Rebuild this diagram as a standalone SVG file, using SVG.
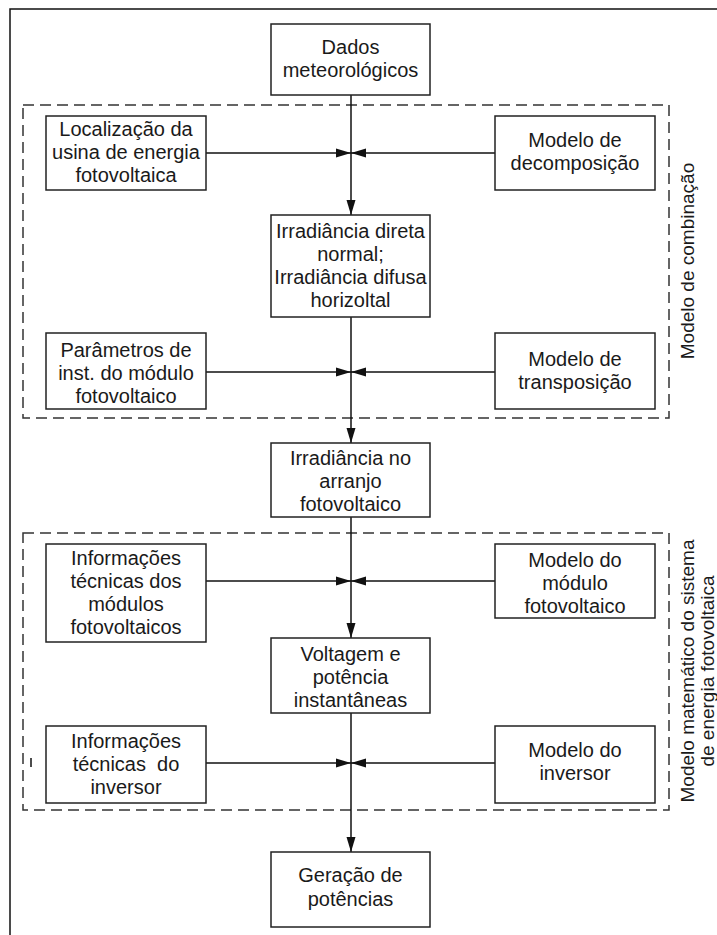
<svg xmlns="http://www.w3.org/2000/svg" width="717" height="935" viewBox="0 0 717 935">
<style>
.box{fill:#fff;stroke:#222;stroke-width:1.5}
.dash{fill:none;stroke:#333;stroke-width:1.5;stroke-dasharray:11 6}
.ln{fill:none;stroke:#111;stroke-width:1.5}
text{font-family:"Liberation Sans",Arial,sans-serif;font-size:20px;fill:#1a1a1a;text-anchor:middle}
.side{font-size:19px}
</style>
<defs>
<marker id="ah" viewBox="0 0 15 10" refX="15" refY="5" markerWidth="15" markerHeight="10" markerUnits="userSpaceOnUse" orient="auto">
<path d="M0,0.5 L15,5 L0,9.5 Z" fill="#111"/>
</marker>
</defs>
<rect width="717" height="935" fill="#fff"/>
<path d="M10,935 V9 H717" class="ln" stroke="#333"/>
<g id="groups">
<rect x="23" y="105" width="646" height="313" class="dash"/>
<rect x="23" y="533" width="646" height="277" class="dash"/>
<text class="side" transform="translate(694,261) rotate(-90)">Modelo de combinação</text>
<text class="side" transform="translate(694,671) rotate(-90)">Modelo matemático do sistema</text>
<text class="side" transform="translate(714,671) rotate(-90)">de energia fotovoltaica</text>
<line x1="31" y1="758" x2="31" y2="767" class="ln" stroke-width="1"/>
</g>
<g id="connectors">
<line x1="351" y1="95" x2="351" y2="215" class="ln" marker-end="url(#ah)"/>
<line x1="206" y1="153" x2="351" y2="153" class="ln" marker-end="url(#ah)"/>
<line x1="495" y1="153" x2="351" y2="153" class="ln" marker-end="url(#ah)"/>
<line x1="351" y1="317" x2="351" y2="443" class="ln" marker-end="url(#ah)"/>
<line x1="206" y1="372" x2="351" y2="372" class="ln" marker-end="url(#ah)"/>
<line x1="495" y1="372" x2="351" y2="372" class="ln" marker-end="url(#ah)"/>
<line x1="351" y1="517" x2="351" y2="638" class="ln" marker-end="url(#ah)"/>
<line x1="206" y1="581" x2="351" y2="581" class="ln" marker-end="url(#ah)"/>
<line x1="495" y1="581" x2="351" y2="581" class="ln" marker-end="url(#ah)"/>
<line x1="351" y1="713" x2="351" y2="852" class="ln" marker-end="url(#ah)"/>
<line x1="206" y1="763" x2="351" y2="763" class="ln" marker-end="url(#ah)"/>
<line x1="495" y1="763" x2="351" y2="763" class="ln" marker-end="url(#ah)"/>
</g>
<g id="dados">
<rect x="271" y="24" width="159" height="71" class="box"/>
<text x="350.5" y="54">Dados</text>
<text x="350.5" y="77">meteorológicos</text>
</g>
<g id="localizacao">
<rect x="46" y="116" width="160" height="74" class="box"/>
<text x="126" y="136">Localização da</text>
<text x="126" y="159">usina de energia</text>
<text x="126" y="182">fotovoltaica</text>
</g>
<g id="decomposicao">
<rect x="495" y="116" width="160" height="74" class="box"/>
<text x="575" y="147">Modelo de</text>
<text x="575" y="170">decomposição</text>
</g>
<g id="irradiancia-direta">
<rect x="271" y="215" width="159" height="102" class="box"/>
<text x="350.5" y="238">Irradiância direta</text>
<text x="350.5" y="261">normal;</text>
<text x="350.5" y="284">Irradiância difusa</text>
<text x="350.5" y="307">horizoltal</text>
</g>
<g id="parametros">
<rect x="46" y="333" width="160" height="76" class="box"/>
<text x="126" y="357">Parâmetros de</text>
<text x="126" y="380">inst. do módulo</text>
<text x="126" y="403">fotovoltaico</text>
</g>
<g id="transposicao">
<rect x="495" y="333" width="160" height="76" class="box"/>
<text x="575" y="366">Modelo de</text>
<text x="575" y="389">transposição</text>
</g>
<g id="irradiancia-arranjo">
<rect x="271" y="443" width="159" height="74" class="box"/>
<text x="350.5" y="465">Irradiância no</text>
<text x="350.5" y="488">arranjo</text>
<text x="350.5" y="511">fotovoltaico</text>
</g>
<g id="info-modulos">
<rect x="46" y="544" width="160" height="98" class="box"/>
<text x="126" y="565">Informações</text>
<text x="126" y="588">técnicas dos</text>
<text x="126" y="611">módulos</text>
<text x="126" y="634">fotovoltaicos</text>
</g>
<g id="modelo-modulo">
<rect x="495" y="544" width="160" height="74" class="box"/>
<text x="575" y="567">Modelo do</text>
<text x="575" y="590">módulo</text>
<text x="575" y="613">fotovoltaico</text>
</g>
<g id="voltagem">
<rect x="271" y="638" width="159" height="75" class="box"/>
<text x="350.5" y="661">Voltagem e</text>
<text x="350.5" y="684">potência</text>
<text x="350.5" y="707">instantâneas</text>
</g>
<g id="info-inversor">
<rect x="46" y="726" width="160" height="77" class="box"/>
<text x="126" y="748">Informações</text>
<text x="126" y="771" xml:space="preserve">técnicas  do</text>
<text x="126" y="794">inversor</text>
</g>
<g id="modelo-inversor">
<rect x="495" y="726" width="160" height="77" class="box"/>
<text x="575" y="757">Modelo do</text>
<text x="575" y="780">inversor</text>
</g>
<g id="geracao">
<rect x="271" y="852" width="159" height="75" class="box"/>
<text x="350.5" y="882">Geração de</text>
<text x="350.5" y="906">potências</text>
</g>
</svg>
